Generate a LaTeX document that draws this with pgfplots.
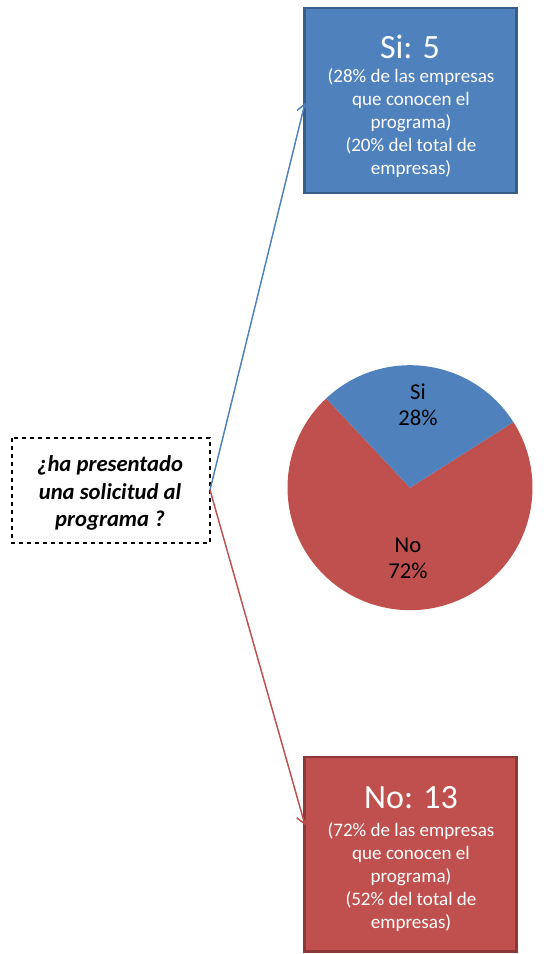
\documentclass[border=0pt]{standalone}
\usepackage{fontspec}
\setmainfont{Carlito}
\usepackage{pgfplots}
\usepackage{pgfplotstable}
\pgfplotsset{compat=1.18}
\usetikzlibrary{arrows.meta}
\definecolor{siblue}{HTML}{4F81BD}
\definecolor{sibluedark}{HTML}{385D8A}
\definecolor{nored}{HTML}{C0504D}
\definecolor{noreddark}{HTML}{8C3836}
\pgfplotstableread{
label count pct
Si 5 28
No 13 72
}\piedata
\begin{document}
\begin{tikzpicture}
\pgfplotstablegetelem{0}{pct}\of\piedata \edef\pSi{\pgfplotsretval}
\pgfplotstablegetelem{1}{pct}\of\piedata \edef\pNo{\pgfplotsretval}
\pgfmathsetmacro{\aStart}{133.2}
\pgfmathsetmacro{\aMid}{\aStart-\pSi*3.6}
\pgfmathsetmacro{\aEnd}{\aMid-\pNo*3.6}
\begin{axis}[
  scale only axis, width=399.75pt, height=715.5pt,
  xmin=0, xmax=533, ymin=0, ymax=954,
  hide axis, clip=false,
]
\path (axis cs:0,0) rectangle (axis cs:533,954);
% pie
\fill[nored] (axis cs:410,466.3) -- ++(\aMid:91.875pt) arc[start angle=\aMid, end angle=\aEnd, radius=91.875pt] -- cycle;
\fill[siblue] (axis cs:410,466.3) -- ++(\aStart:91.875pt) arc[start angle=\aStart, end angle=\aMid, radius=91.875pt] -- cycle;
\node[font=\fontsize{17}{19.5}\selectfont, align=center] at (axis cs:418,549) {Si\\\pSi\%};
\node[font=\fontsize{17}{19.5}\selectfont, align=center] at (axis cs:408,396) {No\\\pNo\%};
% boxes
\draw[fill=siblue, draw=sibluedark, line width=1.6pt] (axis cs:304.5,946) rectangle (axis cs:516.5,761);
\draw[fill=nored, draw=noreddark, line width=1.6pt] (axis cs:304.5,197) rectangle (axis cs:516.5,2.5);
\node[text=white, font=\fontsize{25.5}{30}\selectfont] at (axis cs:410,907) {Si: 5};
\node[text=white, font=\fontsize{14.3}{17.4}\selectfont, align=center] at (axis cs:411,831) {(28\% de las empresas\\que conocen el\\programa)\\(20\% del total de\\empresas)};
\node[text=white, font=\fontsize{25.5}{30}\selectfont] at (axis cs:411,156) {No: 13};
\node[text=white, font=\fontsize{14.3}{17.4}\selectfont, align=center] at (axis cs:411,77) {(72\% de las empresas\\que conocen el\\programa)\\(52\% del total de\\empresas)};
% question box
\draw[dashed, line width=0.8pt] (axis cs:12,516) rectangle (axis cs:210,411);
\node[font=\fontsize{17}{20.6}\selectfont\bfseries\itshape, align=center] at (axis cs:110,461) {¿ha presentado\\una solicitud al\\programa ?};
% arrows
\draw[siblue, line width=1.1pt, -{Straight Barb[length=6pt,width=9pt]}] (axis cs:210,464) -- (axis cs:305,851);
\draw[nored, line width=1.1pt, -{Straight Barb[length=6pt,width=9pt]}] (axis cs:210,464) -- (axis cs:305,129);
\end{axis}
\end{tikzpicture}
\end{document}
